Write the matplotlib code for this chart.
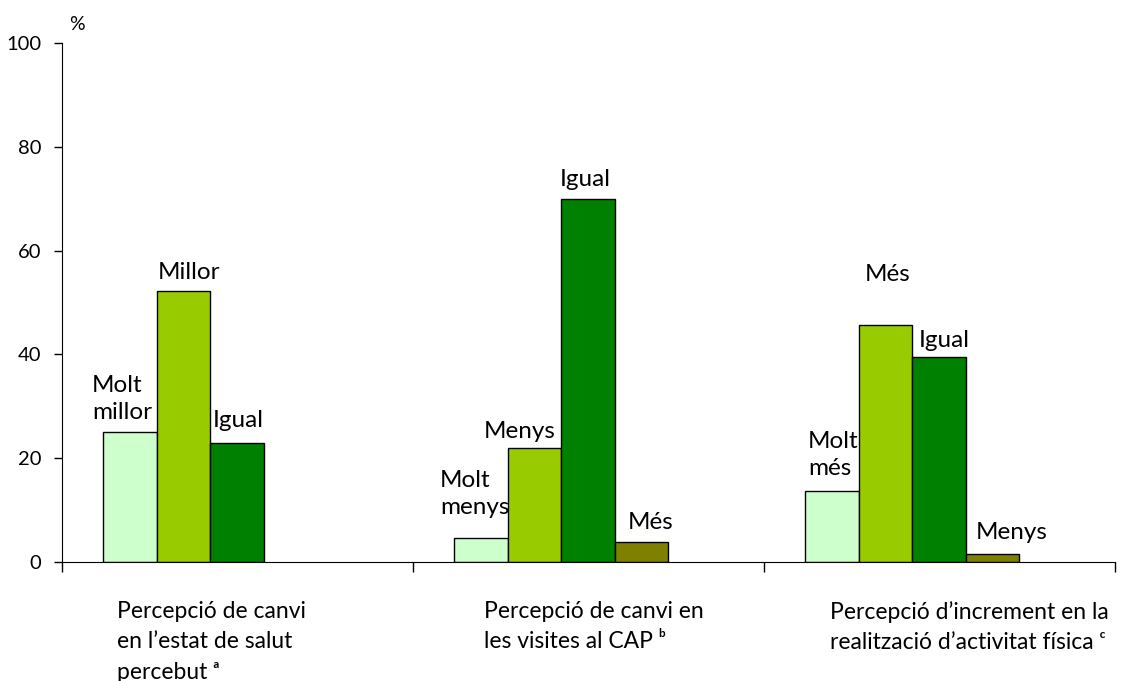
import matplotlib.pyplot as plt

plt.rcParams['font.family'] = ['Lato', 'DejaVu Sans']

groups = ["Percepció de canvi\nen l’estat de salut\npercebut ᵃ",
          "Percepció de canvi en\nles visites al CAP ᵇ",
          "Percepció d’increment en la\nrealització d’activitat física ᶜ"]
bar_labels = [["Molt\nmillor", "Millor", "Igual"],
              ["Molt\nmenys", "Menys", "Igual", "Més"],
              ["Molt\nmés", "Més", "Igual", "Menys"]]
values = [[25.0, 52.2, 22.9],
          [4.6, 22.0, 70.0, 3.8],
          [13.7, 45.7, 39.5, 1.5]]
yticks = [0, 20, 40, 60, 80, 100]

colors = ['#CCFFCC', '#99CC00', '#008000', '#808000']
# label offsets (px) from bar left edge / bar top to label left / centre
label_off = [[(-11, 33), (1, 19), (3, 23)],
             [(-14, 44), (-24, 16), (-1, 19), (13, 20)],
             [(3, 36), (6, 50), (7, 16), (10, 22)]]
group_text_x = [0.157, 0.202, 0.188]

bar_w = 0.1525
first = 0.117
px = 72 / 100  # pixels -> points

fig = plt.figure(figsize=(11.3, 6.81), dpi=100)
ax = fig.add_axes([62/1130, 119/681, 1053/1130, 519/681])

for g, vals in enumerate(values):
    for k, v in enumerate(vals):
        left = g + first + k * bar_w
        ax.bar(left, v, width=bar_w, align='edge', color=colors[k],
               edgecolor='black', linewidth=1)
        dx, dy = label_off[g][k]
        ax.annotate(bar_labels[g][k], xy=(left, v), xytext=(dx*px, dy*px),
                    textcoords='offset points', ha='left', va='center',
                    fontsize=17.5, linespacing=1.33)
    ax.annotate(groups[g], xy=(g + group_text_x[g], 0), xytext=(0, -39*px),
                textcoords='offset points', ha='left', va='top',
                fontsize=16.5, linespacing=1.55, annotation_clip=False)

ax.set_xlim(0, 3)
ax.set_ylim(0, 100)
ax.set_xticks([0, 1, 2, 3])
ax.set_xticklabels([])
ax.set_yticks(yticks)
ax.tick_params(axis='y', direction='out', length=6, width=1, pad=9, labelsize=14.5)
ax.tick_params(axis='x', direction='out', length=7, width=1)
ax.spines['top'].set_visible(False)
ax.spines['right'].set_visible(False)
ax.text(0.007, 1.02, '%', transform=ax.transAxes, fontsize=14, ha='left', va='bottom')

fig.savefig('out.png', dpi=100)
